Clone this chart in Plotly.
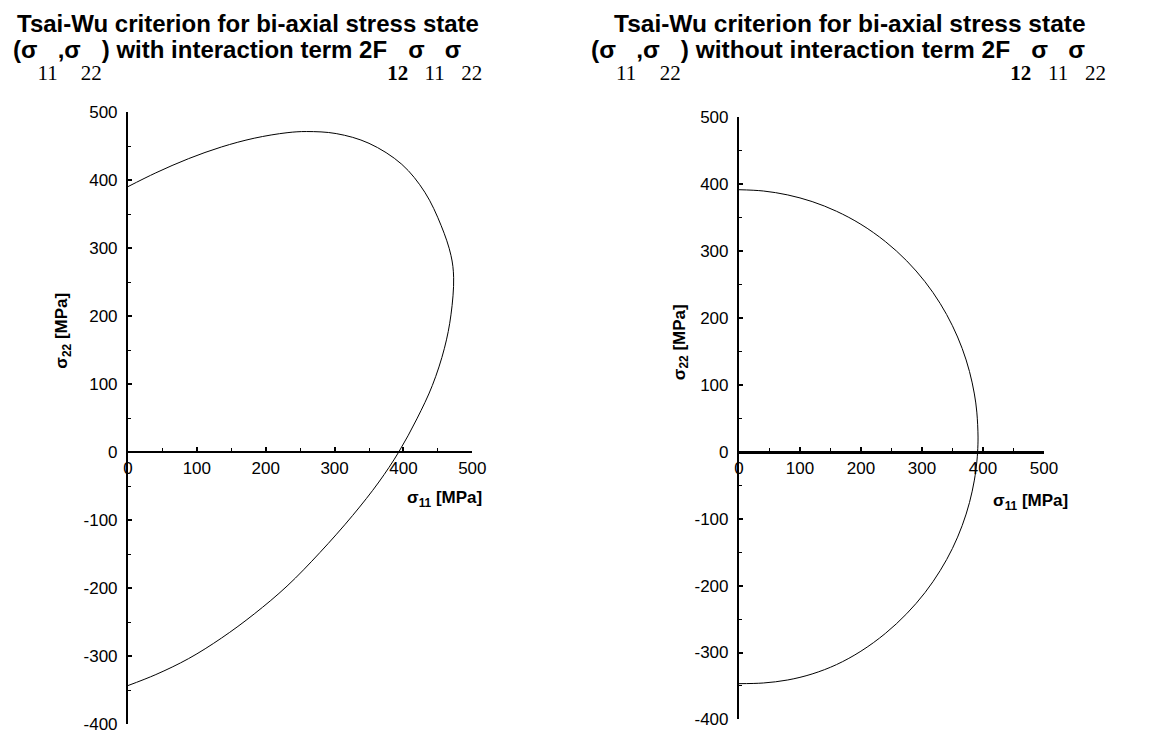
import plotly.graph_objects as go

W, H = 1174, 747

# ---- data (sigma_11, sigma_22 in MPa) ----
with_s11 = [0, 40.5, 88.1, 135.7, 183.3, 231.0, 259.5, 302.4, 350.0, 397.6, 431.0,
            454.8, 469.0, 472.9, 469.0, 459.5, 442.0, 419.5, 392.9, 364.3, 326.2,
            278.6, 231.0, 183.3, 135.7, 88.1, 40.5, 0]
with_s22 = [390.7, 411.0, 431.9, 449.0, 461.9, 470.0, 471.7, 468.7, 454.4, 423.5, 382.5,
            333.3, 289.6, 256.8, 202.2, 153.0, 98.4, 49.2, 0, -43.7, -92.9,
            -147.5, -196.7, -237.7, -273.2, -303.3, -326.8, -343.0]

without_s11 = [0, 40, 80, 120, 160, 200, 240, 275, 305, 330, 350, 366, 378, 386, 390,
               392, 391.3,
               390, 386, 378, 366, 350, 330, 305, 275, 240, 200, 160, 120, 80, 40, 0]
without_s22 = [391.6, 389.7, 383.8, 373.9, 359.4, 339.9, 314.2, 285.4, 254.2, 221.5,
               188.4, 154.4, 119.9, 86.4, 59.3,
               22.0, 0,
               -15.2, -42.3, -75.8, -110.3, -144.5, -177.5, -210.5, -242.0, -271.5,
               -298.0, -318.0, -332.0, -341.0, -345.5, -346.5]

x_range = [0, 500]
y_range = [-400, 500]
x_tickvals = [0, 100, 200, 300, 400, 500]
x_ticktext = ["0", "100", "200", "300", "400", "500"]
y_tickvals = [-400, -300, -200, -100, 0, 100, 200, 300, 400, 500]
y_ticktext = ["-400", "-300", "-200", "-100", "0", "100", "200", "300", "400", "500"]

title_line1 = "Tsai-Wu criterion for bi-axial stress state"
x_title = "σ<sub>11</sub> [MPa]"
y_title = "σ<sub>22</sub> [MPa]"

FONT = "Liberation Sans, Arial, sans-serif"


def px_x(p):
    return p / W


def px_y(p):
    return 1 - p / H


def s(t, bold=False):
    w = "bold" if bold else "normal"
    return (f"<span style=\"font-family:'Liberation Serif','Times New Roman',serif;"
            f"font-size:21px;font-weight:{w};baseline-shift:-22px\">{t}</span>")


def line2(word):
    return ("(σ" + s("11") + ",σ" + s("22") + ") " + word +
            " interaction term 2F" + s("12", True) + "σ" + s("11") + "σ" + s("22"))


fig = go.Figure()
fig.add_trace(go.Scatter(x=with_s11, y=with_s22, mode="lines",
                         line=dict(color="black", width=1, shape="spline", smoothing=1.0),
                         xaxis="x", yaxis="y", showlegend=False, hoverinfo="skip"))
fig.add_trace(go.Scatter(x=without_s11, y=without_s22, mode="lines",
                         line=dict(color="black", width=1, shape="spline", smoothing=1.0),
                         xaxis="x2", yaxis="y2", showlegend=False, hoverinfo="skip"))

panels = [
    dict(xd=(125, 475), yd=(734, 106), lw=2.0),
    dict(xd=(746, 1056), yd=(729, 111), lw=2.5),
]

layout = dict(
    width=W, height=H, margin=dict(l=0, r=0, t=0, b=0),
    paper_bgcolor="white", plot_bgcolor="white",
    font=dict(family=FONT, size=17, color="black"),
    showlegend=False,
)

for i, p in enumerate(panels):
    sx = "" if i == 0 else str(i + 1)
    ydom = [px_y(p["yd"][0]), px_y(p["yd"][1])]
    zero_pos = ydom[0] + (0 - y_range[0]) / (y_range[1] - y_range[0]) * (ydom[1] - ydom[0])
    layout["xaxis" + sx] = dict(
        domain=[px_x(p["xd"][0]), px_x(p["xd"][1])], range=x_range,
        anchor="free", position=zero_pos, side="bottom",
        showline=True, linecolor="black", linewidth=p["lw"],
        ticks="inside", ticklen=4, tickwidth=1.5, tickcolor="black",
        tickmode="array", tickvals=x_tickvals, ticktext=x_ticktext,
        minor=dict(dtick=50, tick0=0, ticks="inside", ticklen=3, tickwidth=1,
                   tickcolor="black", showgrid=False),
        showgrid=False, zeroline=False, tickfont=dict(size=17, family=FONT),
        fixedrange=True,
    )
    layout["yaxis" + sx] = dict(
        domain=ydom, range=y_range, anchor="x" + sx, side="left",
        showline=True, linecolor="black", linewidth=2,
        ticks="inside", ticklen=4, tickwidth=1.5, tickcolor="black",
        tickmode="array", tickvals=y_tickvals, ticktext=y_ticktext,
        minor=dict(dtick=50, tick0=0, ticks="inside", ticklen=3, tickwidth=1,
                   tickcolor="black", showgrid=False),
        showgrid=False, zeroline=False, tickfont=dict(size=17, family=FONT),
        ticklabelstandoff=5, fixedrange=True,
    )

fig.update_layout(**layout)

anns = [
    # titles
    dict(text=title_line1, x=247, y=15, size=24),
    dict(text=line2("with"), x=246.5, y=53, size=24),
    dict(text=title_line1, x=858.5, y=15, size=24.5),
    dict(text=line2("without"), x=857.5, y=53, size=24.5),
    # axis titles
    dict(text=x_title, x=447, y=503, size=17),
    dict(text=x_title, x=1042, y=506, size=17),
    dict(text=y_title, x=59, y=330, size=17, angle=-90),
    dict(text=y_title, x=687, y=342, size=17, angle=-90),
]
for a in anns:
    fig.add_annotation(
        text=a["text"],
        x=px_x(a["x"]), y=px_y(a["y"]), xref="paper", yref="paper",
        xanchor="center", yanchor="middle", showarrow=False,
        textangle=a.get("angle", 0),
        font=dict(family=FONT, size=a["size"], color="black", weight="bold"),
    )

fig.write_html("out.html")
